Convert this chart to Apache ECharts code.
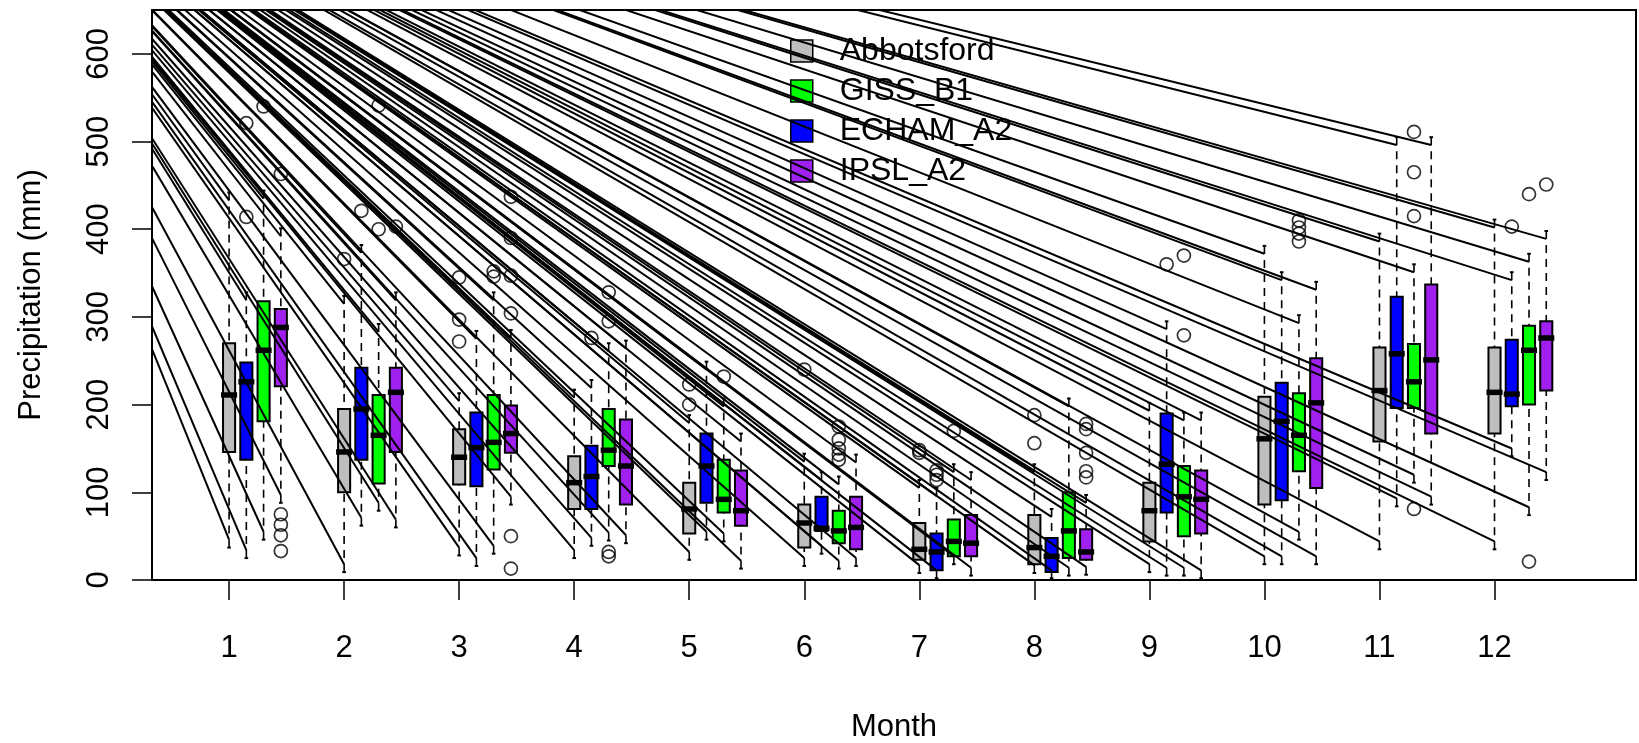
<!DOCTYPE html>
<html><head><meta charset="utf-8">
<script src="https://cdn.jsdelivr.net/npm/echarts@6/dist/echarts.min.js"></script>
<style>html,body{margin:0;padding:0;background:#fff}#chart{width:1639px;height:743px}</style>
</head><body><div id="chart"></div>
<script>
// ---------------- data ----------------
const months = [1,2,3,4,5,6,7,8,9,10,11,12];
const yTicks = [0,100,200,300,400,500,600];
const legendOrder = ['Abbotsford','GISS_B1','ECHAM_A2','IPSL_A2'];

// Abbotsford (observed)
const abbLow  = [37, 9, 28, 25, 23, 16, 8, 8, 9, 18, 35, 35];
const abbQ1   = [146,100,109,81, 53, 37, 23, 18, 44, 86, 158,167];
const abbMed  = [211,146,140,111,81, 65, 35, 37, 79, 161,216,214];
const abbQ3   = [270,195,172,141,111,86, 65, 74, 111,209,265,265];
const abbHigh = [442,324,213,217,188,144,114,132,202,381,395,411];
const abbOut  = [[2,366],[3,345],[3,297],[3,272],[5,223],[5,200],[6,240],[7,148],[7,145],[8,188],[8,156]];

// ECHAM_A2
const echLow  = [25, 62, 16, 39, 46, 30, 2, 2, 5, 18, 84, 141];
const echQ1   = [137,137,107,81, 88, 56, 11, 9, 77, 91, 196,198];
const echMed  = [226,195,151,118,130,59, 32, 27, 132,181,258,212];
const echQ3   = [248,242,191,153,167,95, 53, 48, 190,225,323,274];
const echHigh = [328,382,284,228,249,123,105,81, 295,351,505,351];
const echOut  = [[1,521],[1,414],[2,421],[4,276],[7,125],[7,120],[7,114],[9,360],[12,403]];

// GISS_B1
const gissLow  = [46, 79, 30, 45, 44, 13, 18, 5, 5, 46, 111,74];
const gissQ1   = [181,110,126,130,77, 42, 27, 25, 50, 124,196,200];
const gissMed  = [262,165,157,148,92, 56, 44, 56, 95, 165,226,262];
const gissQ3   = [318,211,211,195,137,79, 69, 100,130,213,269,290];
const gissHigh = [444,292,328,270,207,118,132,207,191,302,360,372];
const gissOut  = [[1,540],[2,541],[2,400],[3,352],[3,346],[4,328],[4,295],[4,32],[4,27],[5,232],
                  [6,175],[6,160],[6,150],[6,143],[6,137],[7,170],[9,370],[9,279],
                  [10,410],[10,402],[10,395],[10,386],[11,511],[11,465],[11,415],[11,81],[12,440],[12,21]];

// IPSL_A2
const ipslLow  = [88, 60, 86, 42, 13, 16, 5, 6, 2, 18, 86, 114];
const ipslQ1   = [221,146,145,86, 62, 35, 27, 23, 53, 105,167,216];
const ipslMed  = [288,214,167,130,79, 60, 42, 32, 92, 202,251,276];
const ipslQ3   = [309,242,199,183,125,95, 74, 58, 125,253,337,295];
const ipslHigh = [401,328,285,273,167,143,123,97, 191,340,505,398];
const ipslOut  = [[1,463],[1,75],[1,63],[1,51],[1,33],[2,403],[3,437],[3,390],[3,347],[3,304],[3,50],[3,13],
                  [8,178],[8,172],[8,145],[8,124],[8,117],[12,451]];

// stray line artefact: common far-away start point (data units) and inset from whisker ends
const lineOrigin = [-1.69, 918];
const lineInset = 9;

// ---------------- layout / style ----------------
const FONT = 'Liberation Sans, Arial, Helvetica, sans-serif';
const boxW = 0.105;
const models = [
  {name:'Abbotsford', color:'#BEBEBE', off:0.00, low:abbLow,  q1:abbQ1,  med:abbMed,  q3:abbQ3,  high:abbHigh,  out:abbOut},
  {name:'ECHAM_A2',   color:'#0000FF', off:0.15, low:echLow,  q1:echQ1,  med:echMed,  q3:echQ3,  high:echHigh,  out:echOut},
  {name:'GISS_B1',    color:'#00FF00', off:0.30, low:gissLow, q1:gissQ1, med:gissMed, q3:gissQ3, high:gissHigh, out:gissOut},
  {name:'IPSL_A2',    color:'#A020F0', off:0.45, low:ipslLow, q1:ipslQ1, med:ipslMed, q3:ipslQ3, high:ipslHigh, out:ipslOut}
];

function boxRender(color) {
  return function (params, api) {
    const x = api.value(0);
    const lo = api.coord([x, api.value(1)]);
    const q1 = api.coord([x, api.value(2)]);
    const md = api.coord([x, api.value(3)]);
    const q3 = api.coord([x, api.value(4)]);
    const hi = api.coord([x, api.value(5)]);
    const hw = api.size([boxW, 0])[0] / 2;
    const cx = lo[0];
    const dash = {stroke:'#000', lineWidth:1.6, lineDash:[8,6]};
    const solid = {stroke:'#000', lineWidth:2};
    return {type:'group', children:[
      {type:'line', shape:{x1:cx,y1:lo[1],x2:cx,y2:q1[1]}, style:dash},
      {type:'line', shape:{x1:cx,y1:hi[1],x2:cx,y2:q3[1]}, style:dash},
      {type:'line', shape:{x1:cx-hw*0.3,y1:lo[1],x2:cx+hw*0.3,y2:lo[1]}, style:solid},
      {type:'line', shape:{x1:cx-hw*0.3,y1:hi[1],x2:cx+hw*0.3,y2:hi[1]}, style:solid},
      {type:'rect', shape:{x:cx-hw,y:q3[1],width:2*hw,height:q1[1]-q3[1]}, style:{fill:color,stroke:'#000',lineWidth:2}},
      {type:'line', shape:{x1:cx-hw-2,y1:md[1],x2:cx+hw+2,y2:md[1]}, style:{stroke:'#000',lineWidth:5.5}}
    ]};
  };
}

const series = [];
models.forEach(m => {
  series.push({
    name: m.name, type:'custom', color:m.color, itemStyle:{color:m.color},
    renderItem: boxRender(m.color),
    encode:{x:0, y:[1,2,3,4,5]},
    data: months.map((mo,i)=>[mo+m.off, m.low[i], m.q1[i], m.med[i], m.q3[i], m.high[i]]),
    z: 2
  });
});
// outliers
const outData = [];
models.forEach(m => m.out.forEach(p => outData.push([p[0]+m.off, p[1]])));
series.push({
  name:'outliers', type:'scatter', symbol:'circle', symbolSize:13, data:outData, z:3,
  itemStyle:{color:'rgba(0,0,0,0)', borderColor:'#000', borderWidth:1.7}, silent:true
});
// stray lines to whisker ends
const lineData = [];
models.forEach(m => months.forEach((mo,i) => {
  lineData.push([mo+m.off, m.low[i] + lineInset]);
  lineData.push([mo+m.off, m.high[i] - lineInset]);
}));
series.push({
  name:'strays', type:'custom', clip:true, z:5, silent:true,
  encode:{x:0,y:1}, data: lineData,
  renderItem: function (params, api) {
    const p0 = api.coord(lineOrigin);
    const p1 = api.coord([api.value(0), api.value(1)]);
    return {type:'line', shape:{x1:p0[0],y1:p0[1],x2:p1[0],y2:p1[1]}, style:{stroke:'#000', lineWidth:2}};
  }
});

const chart = echarts.init(document.getElementById('chart'), null, {renderer:'canvas'});
chart.setOption({
  animation:false,
  backgroundColor:'#fff',
  textStyle:{fontFamily:FONT},
  grid:{left:152, right:3, top:10, bottom:163, containLabel:false, outerBoundsMode:'none',
        show:true, borderColor:'#000', borderWidth:2, backgroundColor:'transparent'},
  legend:{
    data: legendOrder, orient:'vertical', left:785, top:30, icon:'rect',
    itemWidth:22, itemHeight:22, itemGap:8, selectedMode:false,
    itemStyle:{borderColor:'#000', borderWidth:1.5},
    textStyle:{fontSize:32, color:'#000', fontFamily:FONT, padding:[0,0,0,22]}
  },
  xAxis:{
    type:'value', min:0.33, max:13.23,
    name:'Month', nameLocation:'middle', nameGap:132,
    nameTextStyle:{fontSize:31, color:'#000', fontFamily:FONT},
    axisLine:{show:false}, splitLine:{show:false},
    axisTick:{show:true, customValues:months, length:20, lineStyle:{color:'#000', width:1.5}},
    axisLabel:{customValues:months, fontSize:31, color:'#000', margin:53, fontFamily:FONT}
  },
  yAxis:{
    type:'value', min:0, max:650,
    name:'Precipitation (mm)', nameLocation:'middle', nameGap:105, nameRotate:90,
    nameTextStyle:{fontSize:31, color:'#000', fontFamily:FONT},
    axisLine:{show:false}, splitLine:{show:false},
    axisTick:{show:true, customValues:yTicks, length:20, lineStyle:{color:'#000', width:1.5}},
    axisLabel:{customValues:yTicks, rotate:90, fontSize:31, color:'#000', margin:37, fontFamily:FONT}
  },
  series: series
});
</script></body></html>
